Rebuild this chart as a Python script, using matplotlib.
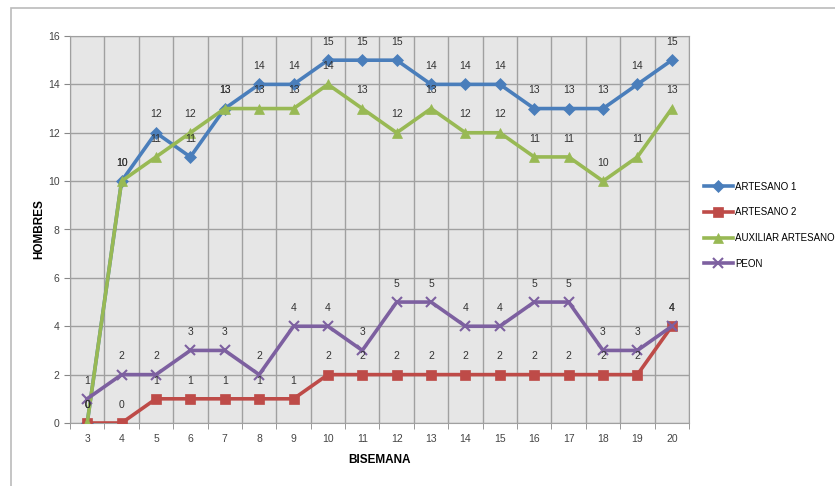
import numpy as np
import matplotlib.pyplot as plt
from matplotlib.patches import Rectangle

# Datos
bisemana = list(range(3, 21))
artesano1 = [0, 10, 12, 11, 13, 14, 14, 15, 15, 15, 14, 14, 14, 13, 13, 13, 14, 15]
artesano2 = [0, 0, 1, 1, 1, 1, 1, 2, 2, 2, 2, 2, 2, 2, 2, 2, 2, 4]
auxiliar = [0, 10, 11, 12, 13, 13, 13, 14, 13, 12, 13, 12, 12, 11, 11, 10, 11, 13]
peon = [1, 2, 2, 3, 3, 2, 4, 4, 3, 5, 5, 4, 4, 5, 5, 3, 3, 4]

series = [
    ("ARTESANO 1", artesano1, "#4A7EBB", "D", 6),
    ("ARTESANO 2", artesano2, "#BE4B48", "s", 7),
    ("AUXILIAR ARTESANO", auxiliar, "#98B954", "^", 7),
    ("PEON", peon, "#7D60A0", "x", 7),
]

plt.rcParams['font.family'] = ['Liberation Sans', 'DejaVu Sans']

fig = plt.figure(figsize=(8.35, 4.86), dpi=100)
ax = fig.add_axes([70 / 835, 1 - 423 / 486, 619 / 835, 387 / 486])

# marco exterior
fig.patches.append(Rectangle((11 / 835, -0.05), 1.0, 1 - 8 / 486 + 0.05,
                             transform=fig.transFigure, fill=False,
                             edgecolor="#BBBBBB", linewidth=1.2))

ax.set_facecolor("#E6E6E6")
x = np.array(bisemana)
handles = []
for name, vals, col, mk, ms in series:
    h, = ax.plot(x, vals, color=col, linewidth=2.6, marker=mk, markersize=ms,
                 markeredgecolor=col, markeredgewidth=1.5 if mk == "x" else 0.5,
                 label=name, zorder=3)
    handles.append(h)
    for xi, v in zip(x, vals):
        ax.text(xi, v + 0.55, str(v), ha="center", va="bottom", fontsize=7.5,
                color="#333333", zorder=4)

ax.set_xlim(2.5, 20.5)
ax.set_ylim(0, 16)
ax.set_yticks(np.arange(0, 17, 2))
ax.set_xticks(x)
ax.set_xticks(np.arange(2.5, 21, 1), minor=True)
ax.tick_params(axis="x", which="major", length=0, labelsize=7.5, colors="#444444", pad=8)
ax.tick_params(axis="x", which="minor", length=4, color="#888888")
ax.tick_params(axis="y", length=4, color="#888888", labelsize=7.5, colors="#444444")
ax.grid(True, axis="y", which="major", color="#A0A0A0", linewidth=1)
ax.grid(True, axis="x", which="minor", color="#A0A0A0", linewidth=1)
ax.set_axisbelow(True)
for s in ax.spines.values():
    s.set_color("#A0A0A0")

ax.set_xlabel("BISEMANA", fontsize=8.5, fontweight="bold", labelpad=7)
ax.set_ylabel("HOMBRES", fontsize=8.5, fontweight="bold", labelpad=2)

leg = fig.legend(handles=handles, loc="upper left", bbox_to_anchor=(700 / 835, 1 - 178 / 486),
                 frameon=False, fontsize=7, handlelength=3, labelspacing=1.6,
                 handletextpad=0.2, borderaxespad=0)

fig.savefig("out.png", dpi=100)
